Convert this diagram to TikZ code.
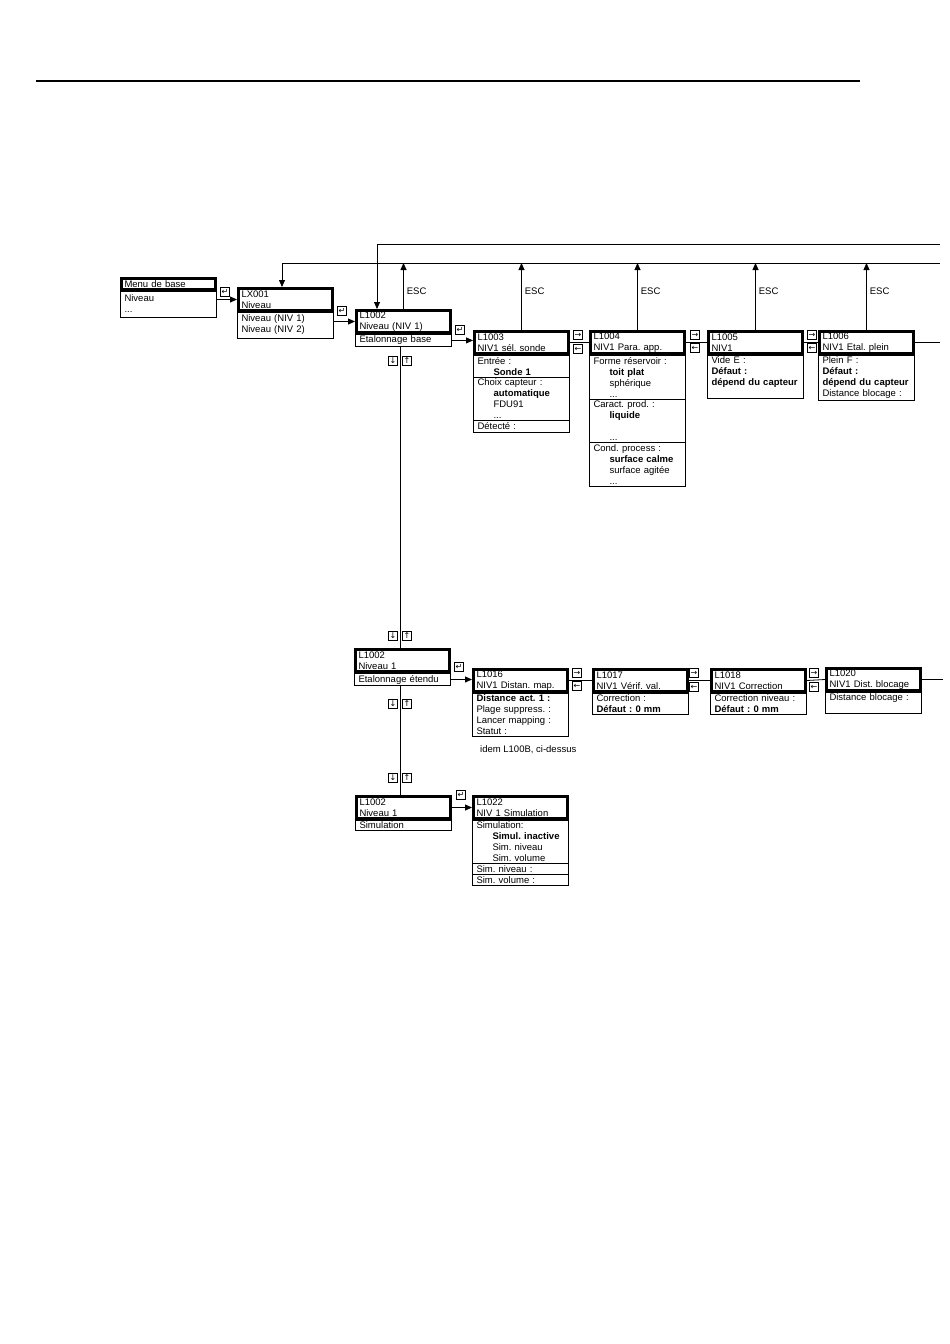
\documentclass[tikz,border=0pt]{standalone}
\usepackage{fontspec}
\setmainfont{Liberation Sans}
\newfontfamily\keyfont{DejaVu Sans}
\usetikzlibrary{arrows.meta, positioning, calc}
\newcommand{\ind}{\hspace*{16pt}}
\frenchspacing

\begin{document}
\begin{tikzpicture}[x=1pt, y=-1pt,
    head/.style={draw, line width=3pt, anchor=north west, text width=88pt, inner xsep=3pt, inner ysep=1pt, minimum height=22pt, align=left, font=\fontsize{9.5}{11}\selectfont},
    body/.style={draw, line width=1pt, outer sep=0pt, text width=88pt, inner xsep=4pt, inner ysep=2pt, align=left, font=\fontsize{9.5}{11}\selectfont},
    keybox/.style={draw, line width=0.7pt, minimum size=9.5pt, inner sep=0pt, font=\keyfont\fontsize{8}{8}\selectfont},
    plain/.style={inner sep=0pt, font=\fontsize{9.5}{11}\selectfont},
    arrow/.style={-{Triangle[length=7pt,width=6pt]}, line width=0.8pt},
    link/.style={line width=0.8pt}
]
    \useasboundingbox (0,0) rectangle (950,1344);
    \draw[line width=1.5pt] (36,81) -- (860,81);

    % Menus
    \node[head, minimum height=11pt] (hmenu) at (120,277) {Menu de base};
    \node[body, below=0pt of hmenu, minimum height=26pt] (bmenu) {Niveau\\...};
    \node[head] (hlx) at (237,287) {LX001\\Niveau};
    \node[body, below=0pt of hlx, minimum height=26pt] (blx) {Niveau (NIV 1)\\Niveau (NIV 2)};
    \node[head] (h1002a) at (355,309) {L1002\\Niveau (NIV 1)};
    \node[body, below=0pt of h1002a] (b1002a) {Etalonnage base};

    % Etalonnage base
    \node[head] (h1003) at (473,330) {L1003\\NIV1 sél. sonde};
    \node[body, below=0pt of h1003] (b1003a) {Entrée :\\\ind\textbf{Sonde 1}};
    \node[body, below=0pt of b1003a] (b1003b) {Choix capteur :\\\ind\textbf{automatique}\\\ind FDU91\\\ind ...};
    \node[body, below=0pt of b1003b] (b1003c) {Détecté :};
    \node[head] (h1004) at (589,330) {L1004\\NIV1 Para. app.};
    \node[body, below=0pt of h1004] (b1004a) {Forme réservoir :\\\ind\textbf{toit plat}\\\ind sphérique\\\ind ...};
    \node[body, below=0pt of b1004a] (b1004b) {Caract. prod. :\\\ind\textbf{liquide}\\ \mbox{}\\\ind ...};
    \node[body, below=0pt of b1004b] (b1004c) {Cond. process :\\\ind\textbf{surface calme}\\\ind surface agitée\\\ind ...};
    \node[head] (h1005) at (707,330) {L1005\\NIV1};
    \node[body, below=0pt of h1005] (b1005) {Vide E :\\\textbf{Défaut :}\\\textbf{dépend du capteur}\\ \mbox{}};
    \node[head] (h1006) at (818,330) {L1006\\NIV1 Etal. plein};
    \node[body, below=0pt of h1006] (b1006) {Plein F :\\\textbf{Défaut :}\\\textbf{dépend du capteur}\\Distance blocage :};

    % Etalonnage etendu
    \node[head] (h1002b) at (354,648) {L1002\\Niveau 1};
    \node[body, below=0pt of h1002b] (b1002b) {Etalonnage étendu};
    \node[head] (h1016) at (472,668) {L1016\\NIV1 Distan. map.};
    \node[body, below=0pt of h1016] (b1016) {\textbf{Distance act. 1 :}\\Plage suppress. :\\Lancer mapping :\\Statut :};
    \node[plain, anchor=north west] (idem) at (480,745) {idem L100B, ci-dessus};
    \node[head] (h1017) at (592,668) {L1017\\NIV1 Vérif. val.};
    \node[body, below=0pt of h1017] (b1017) {Correction :\\\textbf{Défaut : 0 mm}};
    \node[head] (h1018) at (710,668) {L1018\\NIV1 Correction};
    \node[body, below=0pt of h1018] (b1018) {Correction niveau :\\\textbf{Défaut : 0 mm}};
    \node[head] (h1020) at (825,667) {L1020\\NIV1 Dist. blocage};
    \node[body, below=0pt of h1020] (b1020) {Distance blocage :\\ \mbox{}};

    % Simulation
    \node[head] (h1002c) at (355,795) {L1002\\Niveau 1};
    \node[body, below=0pt of h1002c] (b1002c) {Simulation};
    \node[head] (h1022) at (472,795) {L1022\\NIV 1 Simulation};
    \node[body, below=0pt of h1022] (b1022a) {Simulation:\\\ind\textbf{Simul. inactive}\\\ind Sim. niveau\\\ind Sim. volume};
    \node[body, below=0pt of b1022a] (b1022b) {Sim. niveau :};
    \node[body, below=0pt of b1022b] (b1022c) {Sim. volume :};

    % Keys
    \node[keybox] (ent1) at (225,292) {↵};
    \node[keybox] (ent2) at (342,311) {↵};
    \node[keybox] (ent3) at (460,330) {↵};
    \node[keybox] (ent4) at (459,667) {↵};
    \node[keybox] (ent5) at (461,795) {↵};
    \node[keybox] (plus1) at (578,335) {→};
    \node[keybox] (minus1) at (578,349) {←};
    \node[keybox] (plus2) at (695,335) {→};
    \node[keybox] (minus2) at (695,348) {←};
    \node[keybox] (plus3) at (812,335) {→};
    \node[keybox] (minus3) at (812,348) {←};
    \node[keybox] (plus4) at (577,673) {→};
    \node[keybox] (minus4) at (577,686) {←};
    \node[keybox] (plus5) at (694,673) {→};
    \node[keybox] (minus5) at (694,687) {←};
    \node[keybox] (plus6) at (814,673) {→};
    \node[keybox] (minus6) at (814,687) {←};
    \node[keybox] (down1) at (393,361) {↓};
    \node[keybox] (up1) at (407,361) {↑};
    \node[keybox] (down2) at (393,636) {↓};
    \node[keybox] (up2) at (407,636) {↑};
    \node[keybox] (down3) at (393,704) {↓};
    \node[keybox] (up3) at (407,704) {↑};
    \node[keybox] (down4) at (393,778) {↓};
    \node[keybox] (up4) at (407,778) {↑};

    % Flows
    \coordinate (r1) at (940,244);
    \coordinate (r2) at (940,263);
    \coordinate (r3) at (943,0);
    \coordinate (vx) at (400,0);
    \draw[arrow] (bmenu.east |- hlx.west) -- (hlx.west);
    \draw[arrow] (blx.east |- h1002a.west) -- (h1002a.west);
    \draw[arrow] (b1002a.east) -- (b1002a.east -| h1003.west);
    \draw[link] (h1003.east) -- (h1004.west);
    \draw[link] (h1004.east) -- (h1005.west);
    \draw[link] (h1005.east) -- (h1006.west);
    \draw[link] (h1006.east) -- (h1006.east -| r1);
    \draw[link] (vx |- b1002a.south) -- (vx |- h1002b.north);
    \draw[link] (vx |- b1002b.south) -- (vx |- h1002c.north);
    \draw[arrow] (b1002b.east) -- (b1002b.east -| h1016.west);
    \draw[link] (h1016.east) -- (h1017.west);
    \draw[link] (h1017.east) -- (h1018.west);
    \draw[link] (h1018.east) -- (h1020.west);
    \draw[link] (h1020.east) -- (h1020.east -| r3);
    \draw[arrow] (h1002c.east) -- (h1022.west);

    % ESC returns
    \draw[arrow] (r1) -| ($(h1002a.north west)+(22,0)$);
    \draw[arrow] (r2) -| ($(hlx.north west)+(45,0)$);
    \draw[arrow] (h1002a.north) -- (h1002a.north |- r2) node[plain, pos=0.39, right, xshift=3pt] {ESC};
    \draw[arrow] (h1003.north) -- (h1003.north |- r2) node[plain, pos=0.58, right, xshift=3pt] {ESC};
    \draw[arrow] (h1004.north) -- (h1004.north |- r2) node[plain, pos=0.58, right, xshift=3pt] {ESC};
    \draw[arrow] (h1005.north) -- (h1005.north |- r2) node[plain, pos=0.58, right, xshift=3pt] {ESC};
    \draw[arrow] (h1006.north) -- (h1006.north |- r2) node[plain, pos=0.58, right, xshift=3pt] {ESC};
\end{tikzpicture}
\end{document}
